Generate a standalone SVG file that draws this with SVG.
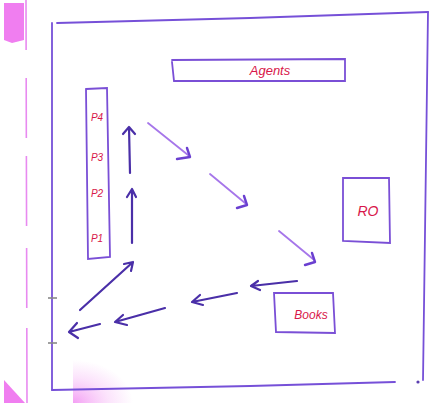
<svg xmlns="http://www.w3.org/2000/svg" width="430" height="403" viewBox="0 0 430 403">
<defs>
<radialGradient id="pinkfade" cx="0" cy="1" r="1">
<stop offset="0" stop-color="#f07ef0" stop-opacity="0.75"/>
<stop offset="0.6" stop-color="#f4a4f4" stop-opacity="0.3"/>
<stop offset="1" stop-color="#f4a4f4" stop-opacity="0"/>
</radialGradient>
</defs>
<style>
.frame{fill:none;stroke:#7650d8;stroke-width:1.8;stroke-linecap:round}
.box{fill:none;stroke:#7a4fd6;stroke-width:1.8;stroke-linecap:round}
.lbl{font-family:"Liberation Sans",Arial,sans-serif;fill:#d8174a;font-style:italic}
.dark{fill:none;stroke:#4a2fa8;stroke-width:2.2;stroke-linecap:round;stroke-linejoin:round}
.light{fill:none;stroke:#a676ea;stroke-width:1.8;stroke-linecap:round}
.head{fill:none;stroke:#6a3fd0;stroke-width:2.4;stroke-linecap:round;stroke-linejoin:round}
</style>
<rect width="430" height="403" fill="#ffffff"/>
<!-- scan margins -->
<path d="M4 3 H24 V40 L12 43 L4 40 Z" fill="#f07ef0"/>
<path d="M4 380 L25 403 H4 Z" fill="#f07ef0"/>
<rect x="73" y="360" width="60" height="43" fill="url(#pinkfade)"/>
<line x1="26" y1="0" x2="27" y2="403" stroke="#e88af0" stroke-width="1.6" stroke-dasharray="50 28 60 18 70 22 60 20 80"/>
<!-- frame -->
<g id="frame">
<path class="frame" d="M57 23 L250 18 L428 12"/>
<path class="frame" d="M52 23 L52 390"/>
<path class="frame" d="M428 12 L423 380"/>
<path class="frame" d="M52 390 L250 386 L395 382"/>
<circle cx="418" cy="382" r="1.6" fill="#5a3fb0"/>
<line x1="48" y1="298" x2="57" y2="298" stroke="#888" stroke-width="1.6"/>
<line x1="48" y1="343" x2="57" y2="343" stroke="#888" stroke-width="1.6"/>
</g>
<g id="agents">
<path class="box" d="M172 62 L174 81 L345 81 L345 59 L172 60"/>
<text class="lbl" x="270" y="75" font-size="13" text-anchor="middle">Agents</text>
</g>
<g id="processes">
<path class="box" d="M86 89 L107 88 L110 257 L88 259 Z"/>
<text class="lbl" x="97" y="121" font-size="10" text-anchor="middle">P4</text>
<text class="lbl" x="97" y="161" font-size="10" text-anchor="middle">P3</text>
<text class="lbl" x="97" y="197" font-size="10" text-anchor="middle">P2</text>
<text class="lbl" x="97" y="242" font-size="10" text-anchor="middle">P1</text>
</g>
<g id="ro">
<path class="box" d="M343 178 L389 178 L390 243 L343 241 Z"/>
<text class="lbl" x="368" y="216" font-size="14" text-anchor="middle">RO</text>
</g>
<g id="books">
<path class="box" d="M274 293 L333 293 L335 333 L276 332 Z"/>
<text class="lbl" x="311" y="319" font-size="12" text-anchor="middle">Books</text>
</g>
<g id="connectors">
<path class="dark" d="M130 173 L129 127 M123 134 L129 127 L135 134"/>
<path class="dark" d="M132 243 L132 189 M127 197 L132 189 L136 197"/>
<path class="dark" d="M80 310 L133 262 M124 264 L133 262 L131 271"/>
<path class="dark" d="M100 324 L69 332 M77 323 L69 332 L78 338"/>
<path class="dark" d="M165 308 L115 322 M123 315 L115 322 L127 325"/>
<path class="dark" d="M237 293 L192 302 M200 295 L192 302 L203 305"/>
<path class="dark" d="M297 281 L251 286 M258 281 L251 286 L260 290"/>
<path class="light" d="M148 123 L188 155"/>
<path class="head" d="M187 148 L190 157 L177 159"/>
<path class="light" d="M210 174 L245 203"/>
<path class="head" d="M244 196 L247 205 L237 208"/>
<path class="light" d="M279 231 L313 259"/>
<path class="head" d="M312 253 L315 262 L305 265"/>
</g>
</svg>
